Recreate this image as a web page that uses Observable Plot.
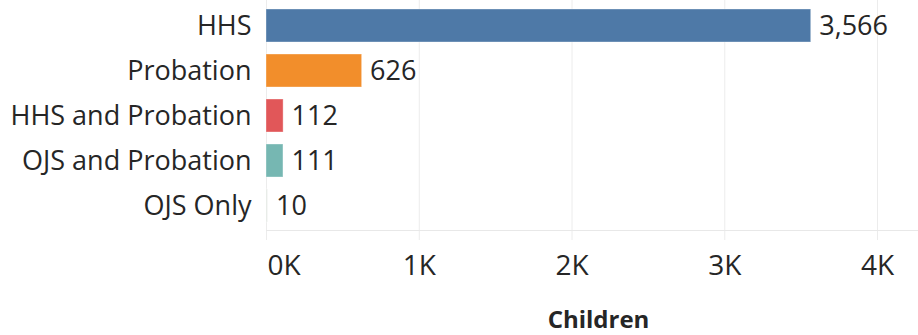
<!DOCTYPE html>
<html><head><meta charset="utf-8">
<script src="https://cdn.jsdelivr.net/npm/d3@7"></script>
<script src="https://cdn.jsdelivr.net/npm/@observablehq/plot@0.6"></script>
<style>
html,body{margin:0;padding:0;background:#fff;}
</style></head>
<body><div id="chart"></div>
<script>
const categories = ["HHS", "Probation", "HHS and Probation", "OJS and Probation", "OJS Only"];
const children = [3566, 626, 112, 111, 10];
const colors = ["#4e79a7", "#f28e2b", "#e15759", "#76b7b2", "#e4e8e4"];
const xTicks = [0, 1000, 2000, 3000, 4000];
const xTickLabels = ["0K", "1K", "2K", "3K", "4K"];
const axisTitle = "Children";

const data = categories.map((c, i) => ({category: c, value: children[i]}));
const font = "'Open Sans', Lato, sans-serif";
const fmtTick = (d) => xTickLabels[xTicks.indexOf(d)];

const plot = Plot.plot({
  width: 918,
  height: 335,
  marginLeft: 266,
  marginRight: 0,
  marginTop: 0,
  marginBottom: 105,
  insetRight: 41,
  insetTop: 1.5,
  style: {fontFamily: font, background: "#fff", color: "#262626"},
  x: {domain: [0, 4000], ticks: xTicks},
  y: {domain: categories, padding: 0.26, paddingOuter: 0.13},
  color: {domain: categories, range: colors},
  marks: [
    Plot.gridX(xTicks, {stroke: "#ececec", strokeOpacity: 1, strokeWidth: 1}),
    Plot.axisX(xTicks, {tickSize: 10, stroke: "#ececec", text: null, label: null}),
    Plot.axisX(xTicks.slice(0, 1), {tickSize: 10, stroke: "none", tickPadding: 15, fontSize: 28,
      textAnchor: "start", dx: 1, tickFormat: fmtTick, label: null, fill: "#262626"}),
    Plot.axisX(xTicks.slice(1), {tickSize: 10, stroke: "none", tickPadding: 15, fontSize: 28,
      tickFormat: fmtTick, label: null, fill: "#262626"}),
    Plot.frame({anchor: "bottom", stroke: "#e8e8e8"}),
    Plot.barX(data, {y: "category", x: "value", fill: "category",
      stroke: "#fff", strokeOpacity: 0.35, strokeWidth: 1}),
    Plot.axisY({tickSize: 0, tickPadding: 15, fontSize: 27, label: null, fill: "#262626"}),
    Plot.text(data, {y: "category", x: "value", text: (d) => d3.format(",")(d.value),
      textAnchor: "start", dx: 8, fontSize: 27, fill: "#262626"}),
    Plot.text([axisTitle], {frameAnchor: "bottom", dy: 90, dx: 6, fontSize: 24,
      fontWeight: "bold", fill: "#262626", lineAnchor: "middle"})
  ]
});
document.getElementById("chart").appendChild(plot);
</script>
</body></html>
